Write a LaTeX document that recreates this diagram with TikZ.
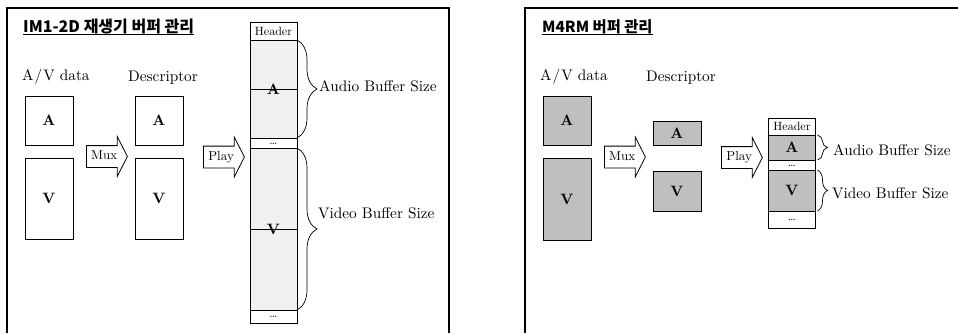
\documentclass[tikz,border=0pt]{standalone}
\usepackage{fontspec}
\setmainfont{lmroman10-regular}[Extension=.otf, BoldFont=lmroman10-bold]
\newfontfamily\kor{Noto Sans CJK KR}
\usetikzlibrary{shapes.arrows,decorations.pathreplacing,positioning}

\newcommand\bodysize{\fontsize{15.3pt}{18pt}\selectfont}
\newcommand\smallsize{\fontsize{12pt}{14pt}\selectfont}
\newcommand\marksize{\fontsize{15pt}{17pt}\selectfont\bfseries}

\begin{document}
\begin{tikzpicture}[
      x=1pt, y=-1pt,
      font=\bodysize,
      % Reusable styles
      panel/.style={line width=1.3pt},
      heading/.style={anchor=base west, inner sep=0pt, font=\kor\bfseries\fontsize{16pt}{18pt}\selectfont},
      caption/.style={anchor=base west, inner sep=0pt},
      box/.style={
        draw,
        line width=0.8pt,
        minimum width=48pt,
        inner sep=0pt,
        font=\marksize
      },
      shaded/.style={box, fill=black!25},
      cell/.style={
        draw,
        line width=0.8pt,
        minimum width=47pt,
        inner sep=0pt,
        outer sep=0pt,
        font=\smallsize
      },
      dotcell/.style={cell, text height=2pt, text depth=0pt, font=\fontsize{12pt}{14pt}\selectfont},
      speckle/.style={cell, fill=black!6},
      grey/.style={cell, fill=black!25},
      secmark/.style={inner sep=0pt, font=\marksize},
      blockarrow/.style={
        shape=single arrow,
        draw,
        fill=white,
        line width=0.8pt,
        anchor=tail,
        minimum height=41pt,
        single arrow head extend=9pt,
        single arrow tip angle=126,
        text height=8.5pt,
        text depth=2.5pt,
        inner xsep=3pt,
        inner ysep=5pt,
        font=\fontsize{13pt}{15pt}\selectfont
      },
      bigbrace/.style={decorate, decoration={brace, amplitude=20pt}, line width=0.7pt},
      smallbrace/.style={decorate, decoration={brace, amplitude=10pt, raise=2pt}, line width=0.7pt}
    ]
    \useasboundingbox (0,0) rectangle (958,333);

    % Panels
    \draw[panel] (7,333) -- (7,8) -- (449,8) -- (449,333);
    \draw[panel] (525,333) -- (525,8) -- (958,8);

    % ---- IM1-2D panel ----
    \node[heading] (title1) at (23,32) {IM1-2D 재생기 버퍼 관리};
    \draw[line width=0.8pt] ([yshift=-2pt]title1.base west) -- ([yshift=-2pt]title1.base east);

    \node[caption] (avdata1) at (22,80) {A\kern1pt/\kern1pt V data};
    \node[caption] (desc1) at (128,81) {Descriptor};

    \node[box, minimum height=49pt] (dataA1) at (49,120.5) {A};
    \node[box, minimum height=81pt] (dataV1) at (49,198.5) {V};
    \node[box, minimum height=49pt] (descA1) at (159,120.5) {A};
    \node[box, minimum height=81pt] (descV1) at (159,198.5) {V};

    \node[blockarrow] (mux1) at (86,156.5) {Mux};
    \node[blockarrow] (play1) at (203,157) {Play};

    % buffer
    \node[cell, minimum height=18pt] (hdr1) at (273.5,31) {Header};
    \node[speckle, minimum height=98pt, below=0pt of hdr1] (aud1) {};
    \node[dotcell, minimum height=10pt, below=0pt of aud1] (dots1a) {\dots};
    \node[speckle, minimum height=162pt, below=0pt of dots1a] (vid1) {};
    \node[dotcell, minimum height=13pt, below=0pt of vid1] (dots1b) {\dots};
    \draw[line width=0.8pt] (aud1.west) -- (aud1.east);
    \draw[line width=0.8pt] (vid1.west) -- (vid1.east);
    \node[secmark] (audmark1) at (aud1.center) {A};
    \node[secmark] (vidmark1) at (vid1.center) {V};

    \draw[bigbrace] (aud1.north east) -- (aud1.south east);
    \draw[bigbrace] (vid1.north east) -- (vid1.south east);
    \node[caption] (audsize1) at (319,91) {Audio Buffer Size};
    \node[caption] (vidsize1) at (318,218) {Video Buffer Size};

    % ---- M4RM panel ----
    \node[heading, font=\kor\bfseries\fontsize{15.3pt}{17pt}\selectfont] (title2) at (542,32) {M4RM 버퍼 관리};
    \draw[line width=0.8pt] ([yshift=-2pt]title2.base west) -- ([yshift=-2pt]title2.base east);

    \node[caption] (avdata2) at (540,80) {A\kern1pt/\kern1pt V data};
    \node[caption] (desc2) at (646,81) {Descriptor};

    \node[shaded, minimum height=49pt] (dataA2) at (567,120.5) {A};
    \node[shaded, minimum height=82pt] (dataV2) at (567,199) {V};
    \node[shaded, minimum height=24pt] (descA2) at (677,133) {A};
    \node[shaded, minimum height=40pt] (descV2) at (677,191) {V};

    \node[blockarrow] (mux2) at (604,157) {Mux};
    \node[blockarrow] (play2) at (721,157.5) {Play};

    % buffer
    \node[cell, minimum height=17pt] (hdr2) at (792,126.5) {Header};
    \node[grey, minimum height=25pt, below=0pt of hdr2, font=\marksize] (aud2) {A};
    \node[dotcell, minimum height=10pt, below=0pt of aud2] (dots2a) {\dots};
    \node[grey, minimum height=41pt, below=0pt of dots2a, font=\marksize] (vid2) {V};
    \node[dotcell, minimum height=17pt, below=0pt of vid2] (dots2b) {\dots};

    \draw[smallbrace] (aud2.north east) -- (aud2.south east);
    \draw[smallbrace] (vid2.north east) -- (vid2.south east);
    \node[caption] (audsize2) at (833,155) {Audio Buffer Size};
    \node[caption] (vidsize2) at (832,198) {Video Buffer Size};
  \end{tikzpicture}
\end{document}
